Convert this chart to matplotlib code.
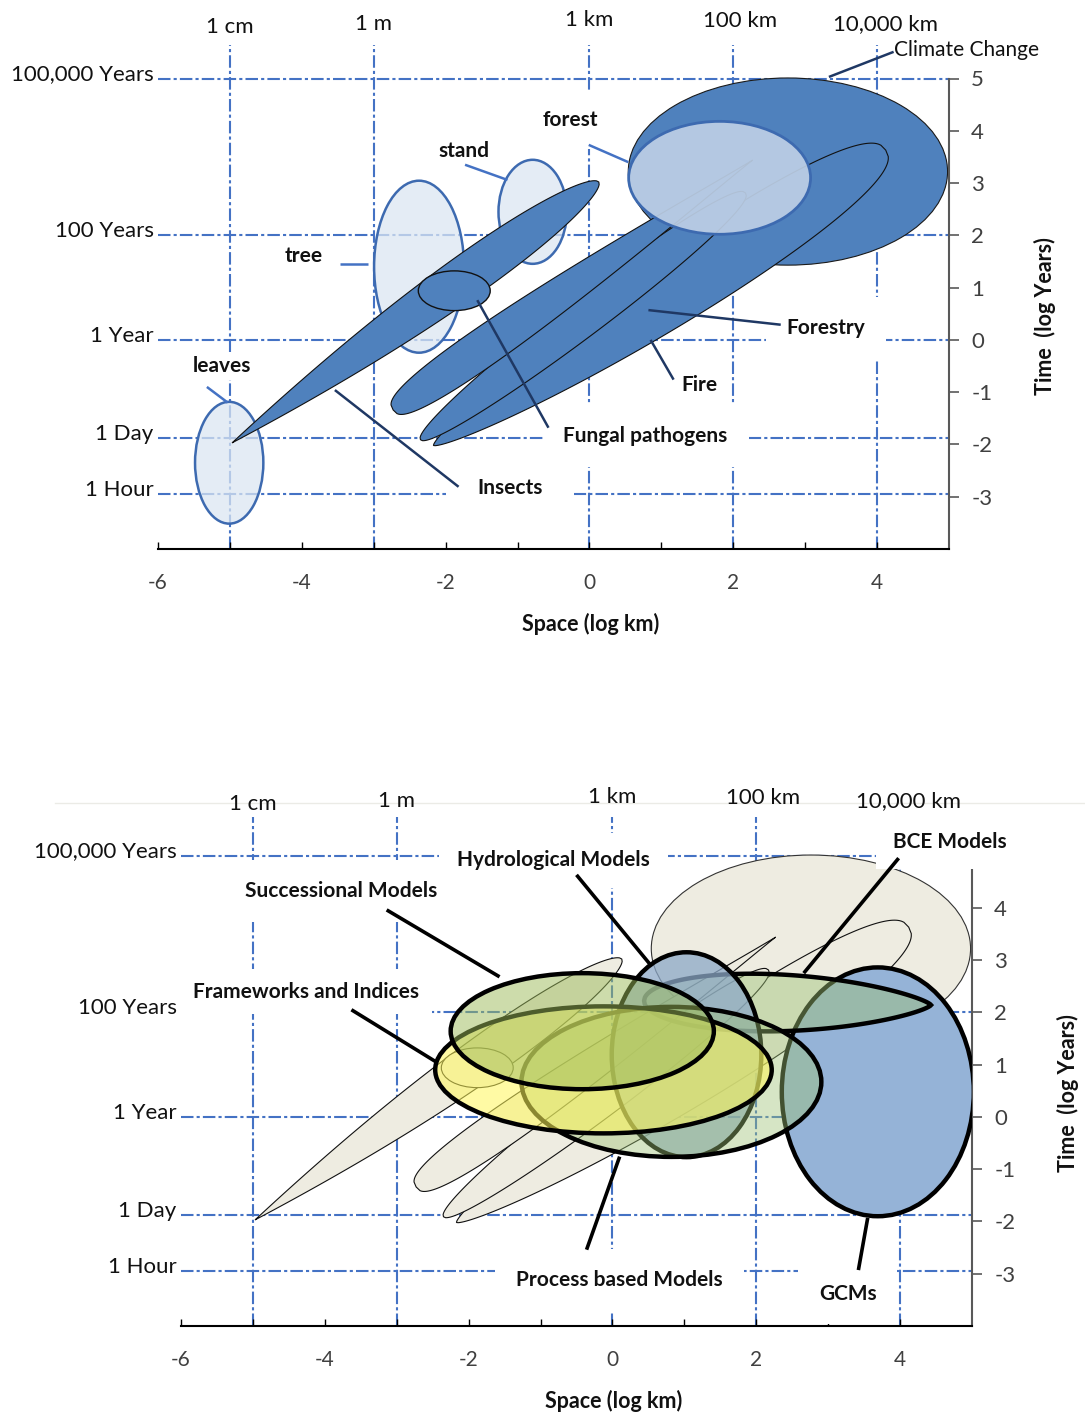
import numpy as np
import matplotlib.pyplot as plt
from matplotlib.patches import Ellipse, Polygon
from matplotlib.lines import Line2D

plt.rcParams['font.family'] = ['Lato', 'DejaVu Sans']
plt.rcParams['axes.unicode_minus'] = False

# reference scales, log10 km and log10 years
space_pos = [-5, -3, 0, 2, 4]
space_names = ['1 cm', '1 m', '1 km', '100 km', '10,000 km']
time_pos = [5, 2, 0, -1.88, -2.95]
time_names = ['100,000 Years', '100 Years', '1 Year', '1 Day', '1 Hour']

x_ticks = list(range(-6, 5))
x_ticklabels = ['-6', '', '-4', '', '-2', '', '0', '', '2', '', '4']

# forest levels (centre x, centre y, width, height)
level_names = ['leaves', 'tree', 'stand', 'forest']
level_x = [-5.01, -2.37, -0.79, 1.81]
level_y = [-2.35, 1.40, 2.45, 3.10]
level_w = [0.95, 1.25, 0.95, 2.53]
level_h = [2.33, 3.29, 1.99, 2.16]

# disturbances drawn as ellipses
dist_names = ['Climate Change', 'Fungal pathogens']
dist_x = [2.76, -1.88]
dist_y = [3.22, 0.94]
dist_w = [4.44, 1.00]
dist_h = [3.58, 0.76]

# disturbances drawn as spindles: start, end, half width, end shape exponents
spin_x0 = [-2.17, -2.35, -2.73, -4.97]
spin_y0 = [-2.02, -1.91, -1.34, -1.97]
spin_x1 = [4.12, 2.17, 2.27, 0.13]
spin_y1 = [3.63, 2.81, 3.44, 3.02]
spin_w = [0.50, 0.28, 0.27, 0.30]
spin_a = [0.70, 0.50, 0.35, 1.00]
spin_b = [0.40, 0.45, 1.10, 0.55]

# model families (centre x, centre y, width, height)
model_names = ['GCMs', 'Hydrological Models', 'Process based Models',
               'Frameworks and Indices', 'Successional Models']
model_x = [3.69, 1.03, 0.82, -0.125, -0.42]
model_y = [0.48, 1.19, 0.67, 0.90, 1.64]
model_w = [2.67, 2.08, 4.17, 4.68, 3.66]
model_h = [4.76, 3.92, 2.87, 2.43, 2.22]
model_fc = [(0.584, 0.702, 0.843, 1.0), (0.55, 0.66, 0.78, 0.75),
            (0.62, 0.76, 0.46, 0.42), (1.0, 0.97, 0.35, 0.55),
            (0.61, 0.73, 0.35, 0.5)]
model_z = [4, 6, 7, 8, 9]

# BCE models: spindle from left to right end
bce_x0, bce_y0, bce_x1, bce_y1 = 0.44, 2.22, 4.43, 2.14
bce_w, bce_a, bce_b = 0.40, 0.5, 0.75

GRID = '#4472c4'
DARK = '#4f81bd'
NAVY = '#1f3864'
GREY_FILL = '#eeece1'

W, H = 1085, 1414
fig = plt.figure(figsize=(W / 100, H / 100), dpi=100)
fig.patch.set_facecolor('white')

ax1 = fig.add_axes([158 / W, 1 - 549 / H, 791 / W, 470.5 / H])
ax2 = fig.add_axes([181 / W, 1 - 1326 / H, 791 / W, 460 / H])
ax1.set_ylim(-4, 5)
ax2.set_ylim(-4, 4.8)

fig.add_artist(Line2D([55 / W, 1], [1 - 803 / H] * 2, color='#ebebe6', lw=1,
                      zorder=-5))


def scale(ax):
    x0, x1 = ax.get_xlim()
    y0, y1 = ax.get_ylim()
    pos = ax.get_position()
    return pos.width * W / (x1 - x0), pos.height * H / (y1 - y0)


def spindle(ax, x0, y0, x1, y1, w, a, b, **kw):
    kx, ky = scale(ax)
    t = np.linspace(0, 1, 400)
    p0 = np.array([x0 * kx, y0 * ky])
    p1 = np.array([x1 * kx, y1 * ky])
    d = p1 - p0
    L = np.hypot(*d)
    u = d / L
    n = np.array([-u[1], u[0]])
    h = t ** a * (1 - t) ** b
    h = h / h.max() * w * kx
    c = p0[None, :] + (t * L)[:, None] * u[None, :]
    pts = np.vstack([c + h[:, None] * n, (c - h[:, None] * n)[::-1]])
    xy = np.column_stack([pts[:, 0] / kx, pts[:, 1] / ky])
    ax.add_patch(Polygon(xy, closed=True, clip_on=False, **kw))


def setup(ax, yticks, vtop):
    ax.set_xlim(-6, 5)
    ax.patch.set_alpha(0)
    for s in ['left', 'top']:
        ax.spines[s].set_visible(False)
    ax.spines['bottom'].set_color('black')
    ax.spines['bottom'].set_linewidth(1.5)
    ax.spines['right'].set_color('#595959')
    ax.spines['right'].set_linewidth(1.5)
    ax.set_xticks(x_ticks)
    ax.set_xticklabels(x_ticklabels)
    ax.tick_params(axis='x', direction='in', length=5, width=1, pad=17,
                   labelsize=15, labelcolor='#404040', color='black')
    ax.yaxis.tick_right()
    ax.set_yticks(yticks)
    ax.set_yticklabels([str(v) for v in yticks])
    ax.tick_params(axis='y', direction='out', length=7, width=1.2, pad=9,
                   labelsize=16, labelcolor='#404040', color='#595959')
    ls = (0, (6, 1.5, 1.5, 1.5))
    for x in space_pos:
        ax.plot([x, x], [-4, vtop], color=GRID, lw=1.5, ls=ls, zorder=1,
                clip_on=False)
    for y in time_pos:
        ax.plot([-6, 5], [y, y], color=GRID, lw=1.5, ls=ls, zorder=1,
                clip_on=False)
    for x, name, dx, ty in zip(space_pos, space_names,
                               [0, 0, 0, 0.1, 0.12],
                               [5.98, 6.04, 6.12, 6.1, 6.05]):
        ax.text(x + dx, ty, name, ha='center', va='center', fontsize=16,
                color='#111111', clip_on=False)
    for y, name in zip(time_pos, time_names):
        ax.text(-6.06, y + 0.08, name, ha='right', va='center', fontsize=16,
                color='#111111', clip_on=False)
    ax.text(0.01, -5.43, 'Space (log km)', ha='center', va='center',
            fontsize=15.5, fontweight='bold', color='#111111')
    ax.text(6.34, 0.45, 'Time  (log Years)', ha='center', va='center',
            rotation=90, fontsize=15.5, fontweight='bold', color='#111111')


def label(ax, text, x, y, pad, leader=None, lcolor=NAVY, lw=1.8,
          size=15, weight='bold', ha='center'):
    ax.text(x, y, text, ha=ha, va='center', fontsize=size, fontweight=weight,
            color='#111111', zorder=20, clip_on=False,
            bbox=dict(boxstyle='square,pad=%.2f' % pad, fc='white',
                      ec='none'))
    if leader is not None:
        ax.plot(leader[:2], leader[2:], color=lcolor, lw=lw, zorder=21,
                solid_capstyle='butt', clip_on=False)


# ---------------- top panel: ecosystem levels and disturbances
setup(ax1, [5, 4, 3, 2, 1, 0, -1, -2, -3], 5.64)

ax1.add_patch(Ellipse((dist_x[0], dist_y[0]), dist_w[0], dist_h[0],
                      fc=DARK, ec='#1a1a1a', lw=0.8, zorder=2, clip_on=False))
for i in range(3):
    spindle(ax1, spin_x0[i], spin_y0[i], spin_x1[i], spin_y1[i], spin_w[i],
            spin_a[i], spin_b[i], fc=DARK, ec='#111111', lw=0.8, zorder=3 + i)
for i in range(3):
    ax1.add_patch(Ellipse((level_x[i], level_y[i]), level_w[i], level_h[i],
                          fc=(0.86, 0.9, 0.95, 0.75), ec='#3d6ab0', lw=1.8,
                          zorder=6))
spindle(ax1, spin_x0[3], spin_y0[3], spin_x1[3], spin_y1[3], spin_w[3],
        spin_a[3], spin_b[3], fc=DARK, ec='#111111', lw=0.8, zorder=7)
ax1.add_patch(Ellipse((dist_x[1], dist_y[1]), dist_w[1], dist_h[1],
                      fc=DARK, ec='#111111', lw=1.0, zorder=8))
ax1.add_patch(Ellipse((level_x[3], level_y[3]), level_w[3], level_h[3],
                      fc=(0.74, 0.81, 0.9, 0.92), ec='#3d6ab0', lw=2,
                      zorder=9))

label(ax1, 'Climate Change', 4.23, 5.54, 0.1, (4.23, 3.33, 5.51, 5.03),
      weight='normal', ha='left')
label(ax1, 'forest', -0.26, 4.21, 0.9, (-0.01, 0.54, 3.73, 3.40), GRID)
label(ax1, 'stand', -1.75, 3.61, 0.2, (-1.73, -1.14, 3.35, 3.06), GRID)
label(ax1, 'tree', -3.98, 1.61, 0.2, (-3.47, -3.08, 1.45, 1.45), GRID)
label(ax1, 'leaves', -5.11, -0.50, 0.2, (-5.32, -5.03, -0.90, -1.20), GRID)
label(ax1, 'Insects', -1.10, -2.83, 1.5, (-3.54, -1.82, -0.96, -2.81))
label(ax1, 'Fungal pathogens', 0.78, -1.84, 1.0, (-1.56, -0.57, 0.76, -1.68))
label(ax1, 'Forestry', 3.29, 0.23, 1.0, (0.82, 2.66, 0.57, 0.29))
label(ax1, 'Fire', 1.53, -0.86, 0.5, (0.85, 1.17, 0.0, -0.76))

# ---------------- bottom panel: model families over the same scales
setup(ax2, [4, 3, 2, 1, 0, -1, -2, -3], 5.74)

ax2.add_patch(Ellipse((dist_x[0], dist_y[0]), dist_w[0], dist_h[0],
                      fc=GREY_FILL, ec='#333333', lw=0.8, zorder=2,
                      clip_on=False))
for i in range(4):
    spindle(ax2, spin_x0[i], spin_y0[i], spin_x1[i], spin_y1[i], spin_w[i],
            spin_a[i], spin_b[i], fc=GREY_FILL, ec='#111111', lw=0.8,
            zorder=3)
ax2.add_patch(Ellipse((dist_x[1], dist_y[1]), dist_w[1], dist_h[1],
                      fc=GREY_FILL, ec='#111111', lw=0.8, zorder=3))

spindle(ax2, bce_x0, bce_y0, bce_x1, bce_y1, bce_w, bce_a, bce_b,
        fc=(0.62, 0.76, 0.46, 0.45), ec='black', lw=3.2, zorder=5)
for i in range(len(model_names)):
    ax2.add_patch(Ellipse((model_x[i], model_y[i]), model_w[i], model_h[i],
                          fc=model_fc[i], ec='black', lw=3.2,
                          zorder=model_z[i]))

lw2 = 2.6
label(ax2, 'Successional Models', -3.78, 4.32, 1.0,
      (-3.14, -1.57, 3.96, 2.68), 'black', lw2)
label(ax2, 'Frameworks and Indices', -4.26, 2.39, 0.6,
      (-3.63, -2.45, 2.05, 1.05), 'black', lw2)
label(ax2, 'Hydrological Models', -0.82, 4.91, 0.85,
      (-0.50, 0.54, 4.63, 2.89), 'black', lw2)
label(ax2, 'BCE Models', 4.69, 5.26, 0.8,
      (3.98, 2.66, 4.95, 2.75), 'black', lw2)
label(ax2, 'Process based Models', 0.10, -3.12, 1.0,
      (-0.36, 0.10, -2.54, -0.76), 'black', lw2)
label(ax2, 'GCMs', 3.27, -3.38, 1.0,
      (3.42, 3.55, -2.93, -1.93), 'black', lw2)

fig.savefig('out.png', dpi=100, facecolor='white')
